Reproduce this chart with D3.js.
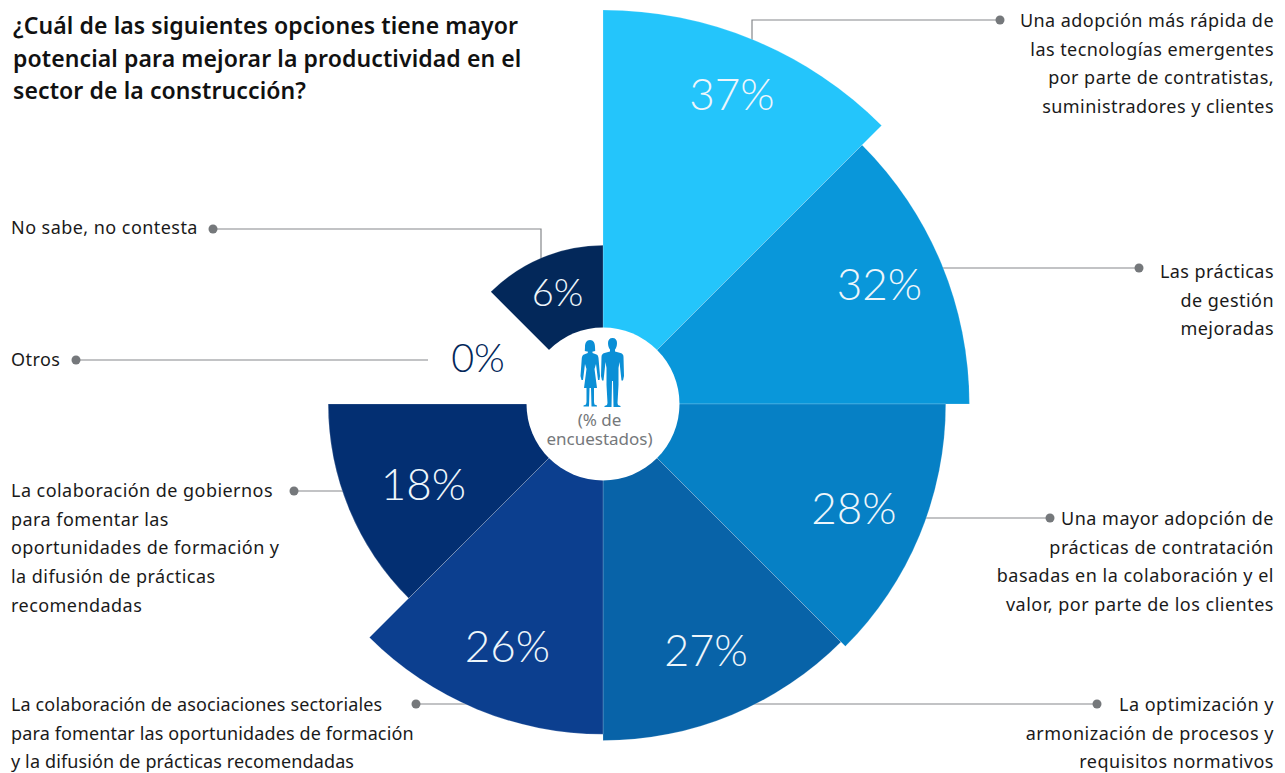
<!DOCTYPE html>
<html lang="es">
<head>
<meta charset="utf-8">
<script src="https://cdnjs.cloudflare.com/ajax/libs/d3/7.8.5/d3.min.js"></script>
<style>
  html, body { margin: 0; padding: 0; background: #fff; }
  svg { display: block; }
  text { font-family: "Noto Sans", sans-serif; }
</style>
</head>
<body>
<svg id="chart" width="1285" height="773"></svg>
<script>
// Survey answers, clockwise from twelve o'clock
const categories = [
  "Adopción de tecnologías emergentes",
  "Prácticas de gestión",
  "Contratación colaborativa",
  "Procesos y requisitos normativos",
  "Asociaciones sectoriales",
  "Gobiernos",
  "Otros",
  "No sabe, no contesta"
];
const values = [37, 32, 28, 27, 26, 18, 0, 6];
const colors = ["#24c5fb", "#0997da", "#0680c5", "#0863a8", "#0c3f8f", "#032f72", "#032f72", "#03285a"];

const titleLines = [
  "¿Cuál de las siguientes opciones tiene mayor",
  "potencial para mejorar la productividad en el",
  "sector de la construcción?"
];
const centreLines = ["(% de", "encuestados)"];

// Callout wording, one list of lines per slice
const calloutLines = [
  ["Una adopción más rápida de", "las tecnologías emergentes", "por parte de contratistas,", "suministradores y clientes"],
  ["Las prácticas", "de gestión", "mejoradas"],
  ["Una mayor adopción de", "prácticas de contratación", "basadas en la colaboración y el", "valor, por parte de los clientes"],
  ["La optimización y", "armonización de procesos y", "requisitos normativos"],
  ["La colaboración de asociaciones sectoriales", "para fomentar las oportunidades de formación", "y la difusión de prácticas recomendadas"],
  ["La colaboración de gobiernos", "para fomentar las", "oportunidades de formación y", "la difusión de prácticas", "recomendadas"],
  ["Otros"],
  ["No sabe, no contesta"]
];

const cx = 603, cy = 404, holeRadius = 76.5;
const svg = d3.select("#chart");

// Callout geometry: leader line, dot and text block for each slice
const leaderColor = "#75787b";
const callouts = [
  { path: [[752, 60], [752, 20], [1000, 20]],   dot: [1000, 20],  anchor: "end",   x: 1274, y: 27,  tracking: 0.45 },
  { path: [[900, 268], [1139, 268]],            dot: [1139, 268], anchor: "end",   x: 1274, y: 278, tracking: 0.45 },
  { path: [[900, 518], [1050, 518]],            dot: [1050, 518], anchor: "end",   x: 1274, y: 525, tracking: 0.5 },
  { path: [[700, 704], [1097, 704]],            dot: [1097, 704], anchor: "end",   x: 1274, y: 711, tracking: 0.5 },
  { path: [[500, 704], [416, 704]],             dot: [416, 704],  anchor: "start", x: 11,   y: 711, tracking: 0.13 },
  { path: [[370, 491], [294, 491]],             dot: [294, 491],  anchor: "start", x: 11,   y: 497, tracking: 0.45 },
  { path: [[428, 360], [76, 360]],              dot: [76, 360],   anchor: "start", x: 11,   y: 366, tracking: 0.45 },
  { path: [[541, 280], [541, 229], [213, 229]], dot: [213, 229],  anchor: "start", x: 11,   y: 234, tracking: 0.45 }
];
const lineGen = d3.line();

// Leaders run underneath the wedges, so they stop at each wedge's outer edge
svg.selectAll("path.leader")
  .data(callouts)
  .join("path")
  .attr("class", "leader")
  .attr("d", d => lineGen(d.path))
  .attr("fill", "none")
  .attr("stroke", "#85888b")
  .attr("stroke-width", 1.2);

svg.selectAll("circle.dot")
  .data(callouts)
  .join("circle")
  .attr("class", "dot")
  .attr("cx", d => d.dot[0])
  .attr("cy", d => d.dot[1])
  .attr("r", 4.5)
  .attr("fill", leaderColor);

const callout = svg.selectAll("text.callout")
  .data(callouts)
  .join("text")
  .attr("class", "callout")
  .attr("text-anchor", d => d.anchor)
  .attr("font-size", 18)
  .attr("letter-spacing", d => d.tracking)
  .attr("fill", "#1a1a1a");

callout.selectAll("tspan")
  .data((d, i) => calloutLines[i].map((line, j) => ({ line, x: d.x, y: d.y + j * 28.7 })))
  .join("tspan")
  .attr("x", d => d.x)
  .attr("y", d => d.y)
  .text(d => d.line);

// Wedge area is proportional to the value, so the radius follows a square root
const radius = d3.scaleSqrt().domain([0, 37]).range([0, 394]);
const pie = d3.pie().value(1).sort(null)(values);

const chart = svg.append("g").attr("transform", `translate(${cx},${cy})`);
const arc = d3.arc()
  .innerRadius(0)
  .outerRadius(d => radius(d.data));

chart.selectAll("path.slice")
  .data(pie)
  .join("path")
  .attr("class", "slice")
  .attr("d", arc)
  .attr("fill", (d, i) => colors[i])
  .attr("stroke", "#ffffff")
  .attr("stroke-opacity", 0.3)
  .attr("stroke-width", 0.6);

chart.append("circle").attr("r", holeRadius).attr("fill", "#fff");

// Value labels
const labelPos = [[732, 110], [879.5, 300], [854, 524], [706, 666], [507.5, 662], [423.5, 500], [478, 372], [557.5, 306]];
const labelSize = [44, 44, 44, 43, 44, 44, 39.5, 38];
svg.selectAll("text.value")
  .data(values)
  .join("text")
  .attr("class", "value")
  .attr("x", (d, i) => labelPos[i][0])
  .attr("y", (d, i) => labelPos[i][1])
  .attr("text-anchor", "middle")
  .attr("font-size", (d, i) => labelSize[i])
  .attr("font-weight", 300)
  .style("font-family", "Lato, sans-serif")
  .attr("fill", d => d === 0 ? "#03285a" : "#eef6fb")
  .text(d => `${d}%`);

// Title
svg.append("text")
  .attr("font-size", 23)
  .attr("font-weight", 600)
  .attr("letter-spacing", 0.1)
  .attr("fill", "#111")
  .selectAll("tspan")
  .data(titleLines)
  .join("tspan")
  .attr("x", 13)
  .attr("y", (d, i) => 34 + i * 32.5)
  .text(d => d);

// Centre caption
svg.append("text")
  .attr("font-size", 17)
  .attr("text-anchor", "middle")
  .attr("fill", "#75787b")
  .selectAll("tspan")
  .data(centreLines)
  .join("tspan")
  .attr("x", 599.5)
  .attr("y", (d, i) => 426 + i * 19)
  .text(d => d);

// Woman and man pictogram above the caption
const people = svg.append("g").attr("fill", "#0b8fd6");
people.append("path").attr("d",
  "M590 340 C586.5 340 585 343 585 347 L584.8 351 L587 351.5 L587.8 351.5 L587.8 353 L584 354.5 C582.5 355 582 356.5 581.8 358 L580.5 376 L581.5 380 L583 380 L583.5 376 L585 364 L586.5 369 L584 388 L586.5 388 L586.5 402 L586 404.5 L583.5 405.5 L583.5 406.5 L589 406.5 L589.5 388 L591 388 L591.5 406.5 L597 406.5 L597 405.5 L594.5 404.5 L594 402 L594 388 L597 388 L594.5 369 L596 364 L597.5 376 L598 380 L599.5 380 L600 376 L598.5 358 C598.3 356.5 598 355 596.5 354.5 L592.5 353 L592.5 351.5 L593 351.5 L595.2 351 L595 347 C595 343 593.5 340 590 340 Z");
people.append("path").attr("d",
  "M612.5 338 C609.5 338 608 340 608 343 C608 346 609 348.5 610 349.5 L610 351.5 L604.5 353 C602.5 353.6 601.5 355 601.5 357 L601 376 L602 380.5 L603.5 380.5 L604 376 L605.5 362 L606.5 368 L606.5 385 L607.5 403 L607 405 L604.5 406 L604.5 407 L611.5 407 L612 381 L613 381 L613.5 407 L620.5 407 L620.5 406 L618 405 L617.5 403 L618.5 385 L618.5 368 L619.5 362 L621 376 L621.5 380.5 L623 380.5 L624 376 L623.5 357 C623.5 355 622.5 353.6 620.5 353 L615 351.5 L615 349.5 C616 348.5 617 346 617 343 C617 340 615.5 338 612.5 338 Z");
</script>
</body>
</html>
